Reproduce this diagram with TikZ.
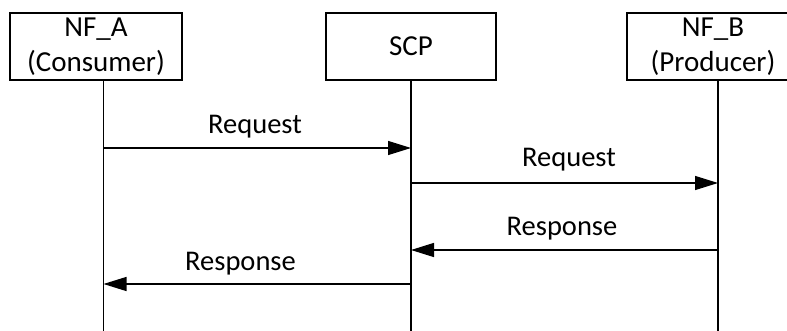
\documentclass[tikz,border=0pt]{standalone}
\usepackage{fontspec}
\setmainfont{Carlito}
\usetikzlibrary{arrows.meta}
\begin{document}
\begin{tikzpicture}[x=1pt,y=-1pt,
  ent/.style={draw,line width=1.3pt,minimum width=172pt,minimum height=67pt,inner sep=0pt,align=center,font=\fontsize{29}{35}\selectfont},
  life/.style={line width=1.3pt},
  msg/.style={line width=1.3pt,-{Triangle[length=23pt,width=14pt]}},
  lbl/.style={anchor=base,font=\fontsize{28.5}{34}\selectfont,inner sep=0pt}]
\useasboundingbox (0,0) rectangle (787,331);
\begin{scope}
\clip (0,0) rectangle (787,331);
\node[ent] (a) at (96,46.5) {NF\_A\\(Consumer)};
\node[ent,minimum width=170pt] (scp) at (411,46.5) {SCP};
\node[ent] (b) at (713,46.5) {NF\_B\\(Producer)};
\end{scope}
\coordinate (at) at (103.5,80);
\coordinate (ab) at (103.5,331);
\coordinate (st) at (411,80);
\coordinate (sb) at (411,331);
\coordinate (bt) at (718,80);
\coordinate (bb) at (718,331);
\draw[life] (at) -- (ab);
\draw[life] (st) -- (sb);
\draw[life] (bt) -- (bb);
\coordinate (a1) at (103.5,148); \coordinate (s1) at (411,148);
\coordinate (s2) at (411,183); \coordinate (b2) at (718,183);
\coordinate (b3) at (718,250); \coordinate (s3) at (411,250);
\coordinate (s4) at (411,284); \coordinate (a4) at (103.5,284);
\draw[msg] (a1) -- (s1);
\draw[msg] (s2) -- (b2);
\draw[msg] (b3) -- (s3);
\draw[msg] (s4) -- (a4);
\node[lbl] (l1) at (255,134) {Request};
\node[lbl] (l2) at (569,166.5) {Request};
\node[lbl] (l3) at (562,235.5) {Response};
\node[lbl] (l4) at (240.5,270) {Response};
\end{tikzpicture}
\end{document}
